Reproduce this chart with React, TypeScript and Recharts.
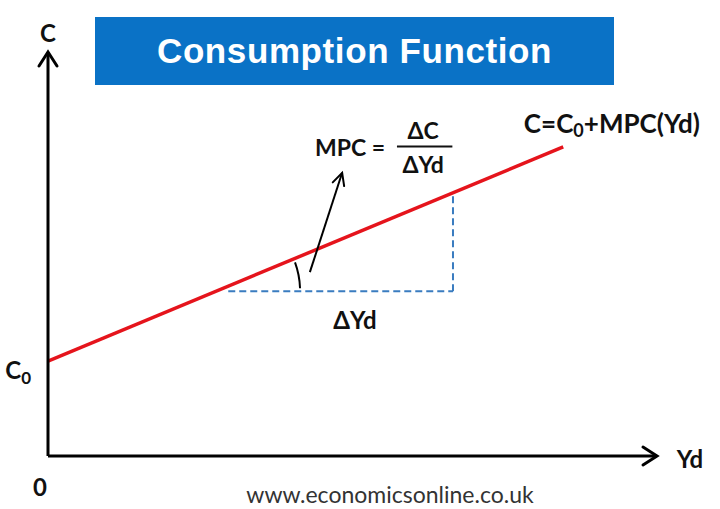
import React from 'react';
import { ComposedChart, Line, XAxis, YAxis, ReferenceLine, ReferenceDot } from 'recharts';

// Consumption line C = C0 + MPC * Yd (chart units 0..100)
const consumptionLine = [
  { yd: 0, c: 23.5 },
  { yd: 84.6, c: 76.5 },
];

// Dashed ΔYd / ΔC triangle
const deltaYd = [{ x: 29.6, y: 40.8 }, { x: 66.5, y: 40.8 }];
const deltaC = [{ x: 66.5, y: 40.8 }, { x: 66.5, y: 64.8 }];

// Axes (with arrow heads)
const xAxisSeg = [{ x: 0, y: 0 }, { x: 100, y: 0 }];
const yAxisSeg = [{ x: 0, y: 0 }, { x: 0, y: 100 }];

// MPC pointer arrow
const mpcArrow = [{ x: 43.0, y: 45.5 }, { x: 48.3, y: 70.1 }];

// Fraction bar for ΔC / ΔYd
const fractionBar = [{ x: 57.3, y: 76.6 }, { x: 66.4, y: 76.6 }];

// Angle marker vertex
const angleVertex = { x: 27.6, y: 40.8 };

// Text labels (anchor in chart units)
const labels = [
  { id: 'c', x: 0, y: 104.8, text: 'C', size: 24, anchor: 'middle' },
  { id: 'zero', x: -1.3, y: -7.6, text: '0', size: 24, anchor: 'middle' },
  { id: 'yd', x: 105.4, y: -0.5, text: 'Yd', size: 24, anchor: 'middle' },
  { id: 'mpc', x: 49.6, y: 76.4, text: 'MPC =', size: 23, anchor: 'middle' },
  { id: 'dc', x: 61.6, y: 80.6, text: 'ΔC', size: 23, anchor: 'middle' },
  { id: 'dyd1', x: 61.6, y: 72.4, text: 'ΔYd', size: 23, anchor: 'middle' },
  { id: 'dyd2', x: 50.4, y: 33.7, text: 'ΔYd', size: 24, anchor: 'middle' },
];

const LABEL_FONT = 'Lato, "Open Sans", "DejaVu Sans", sans-serif';

const arrowShape = (width: number, head: number, half: number) => (p: any) => {
  const { x1, y1, x2, y2 } = p;
  const ang = Math.atan2(y2 - y1, x2 - x1);
  const cx = Math.cos(ang);
  const sx = Math.sin(ang);
  const bx = x2 - head * cx;
  const by = y2 - head * sx;
  const w1x = bx - half * sx;
  const w1y = by + half * cx;
  const w2x = bx + half * sx;
  const w2y = by - half * cx;
  return (
    <g>
      <line x1={x1} y1={y1} x2={x2} y2={y2} stroke="#000" strokeWidth={width} />
      <polyline
        points={`${w1x},${w1y} ${x2},${y2} ${w2x},${w2y}`}
        fill="none"
        stroke="#000"
        strokeWidth={width}
        strokeLinecap="round"
        strokeLinejoin="miter"
      />
    </g>
  );
};

const textShape = (text: string, size: number, anchor: string) => (p: any) => (
  <text
    x={p.cx}
    y={p.cy}
    textAnchor={anchor as any}
    dominantBaseline="central"
    fontFamily={LABEL_FONT}
    fontWeight={700}
    fontSize={size}
    fill="#111"
  >
    {text}
  </text>
);

const c0Shape = (p: any) => (
  <text x={p.cx} y={p.cy} textAnchor="middle" dominantBaseline="central" fontFamily={LABEL_FONT} fontWeight={700} fontSize={24} fill="#111">
    C<tspan fontSize={17} dy={7}>0</tspan>
  </text>
);

const eqShape = (p: any) => (
  <text x={p.cx} y={p.cy} textAnchor="middle" dominantBaseline="central" fontFamily={LABEL_FONT} fontWeight={700} fontSize={26} fill="#111">
    C=C<tspan fontSize={18} dy={7}>0</tspan>
    <tspan dy={-7}>+MPC(Yd)</tspan>
  </text>
);

const arcShape = (p: any) => {
  const r = 84;
  const a1 = (20 * Math.PI) / 180;
  const a2 = (2 * Math.PI) / 180;
  const sx = p.cx + r * Math.cos(a1);
  const sy = p.cy - r * Math.sin(a1);
  const ex = p.cx + r * Math.cos(a2);
  const ey = p.cy - r * Math.sin(a2);
  return <path d={`M ${sx} ${sy} A ${r} ${r} 0 0 1 ${ex} ${ey}`} fill="none" stroke="#000" strokeWidth={2} />;
};

export default function App() {
  return (
    <div style={{ position: 'absolute', left: 0, top: 0, width: 720, height: 509, background: '#fff' }}>
      <ComposedChart
        width={720}
        height={509}
        data={consumptionLine}
        margin={{ top: 52, right: 63, bottom: 53, left: 48 }}
      >
        <XAxis type="number" dataKey="yd" domain={[0, 100]} hide allowDataOverflow />
        <YAxis type="number" domain={[0, 100]} hide allowDataOverflow />
        <ReferenceLine segment={deltaYd} stroke="#3a7cc0" strokeWidth={2} strokeDasharray="7 4" ifOverflow="visible" />
        <ReferenceLine segment={deltaC} stroke="#3a7cc0" strokeWidth={2} strokeDasharray="7 4" ifOverflow="visible" />
        <Line
          type="linear"
          dataKey="c"
          stroke="#e5141c"
          strokeWidth={3.5}
          dot={false}
          activeDot={false}
          isAnimationActive={false}
        />
        <ReferenceLine segment={xAxisSeg} ifOverflow="visible" shape={arrowShape(3, 14, 9)} />
        <ReferenceLine segment={yAxisSeg} ifOverflow="visible" shape={arrowShape(3, 14, 9)} />
        <ReferenceLine segment={mpcArrow} ifOverflow="visible" shape={arrowShape(2, 12, 6)} />
        <ReferenceLine segment={fractionBar} stroke="#111" strokeWidth={2} ifOverflow="visible" />
        <ReferenceDot x={angleVertex.x} y={angleVertex.y} r={1} ifOverflow="visible" shape={arcShape} />
        {labels.map((l) => (
          <ReferenceDot key={l.id} x={l.x} y={l.y} r={1} ifOverflow="visible" shape={textShape(l.text, l.size, l.anchor)} />
        ))}
        <ReferenceDot x={-4.9} y={21.3} r={1} ifOverflow="visible" shape={c0Shape} />
        <ReferenceDot x={92.6} y={82.4} r={1} ifOverflow="visible" shape={eqShape} />
      </ComposedChart>
      <div
        style={{
          position: 'absolute',
          left: 95,
          top: 17,
          width: 519,
          height: 68,
          background: '#0a72c6',
          color: '#fff',
          fontFamily: '"Liberation Sans", Arial, sans-serif',
          fontWeight: 700,
          fontSize: 35,
          display: 'flex',
          alignItems: 'center',
          justifyContent: 'center',
          letterSpacing: 0.6,
        }}
      >
        Consumption Function
      </div>
      <div
        style={{
          position: 'absolute',
          left: 0,
          width: 780,
          top: 480,
          textAlign: 'center',
          fontFamily: 'Lato, "Open Sans", sans-serif',
          fontSize: 23,
          color: '#333',
        }}
      >
        www.economicsonline.co.uk
      </div>
    </div>
  );
}
